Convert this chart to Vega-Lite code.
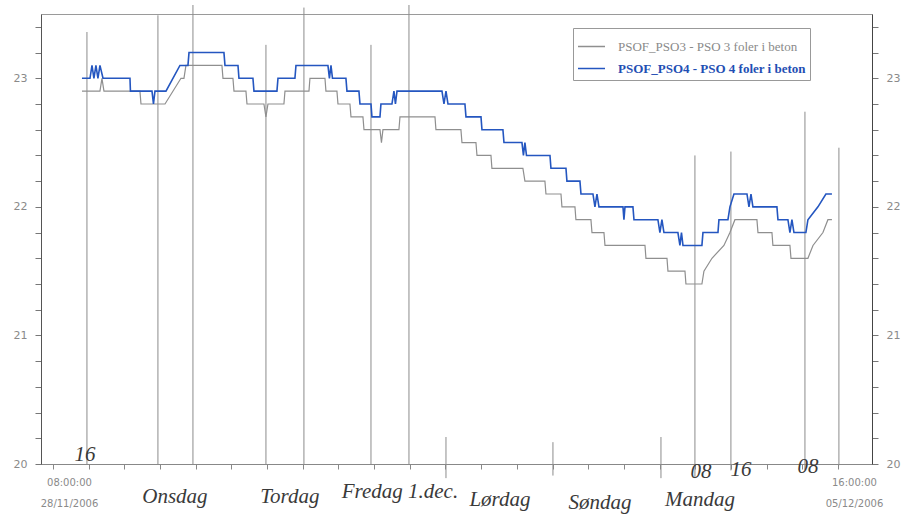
{
  "$schema": "https://vega.github.io/schema/vega-lite/v6.json",
  "width": 831,
  "height": 450,
  "autosize": "none",
  "padding": {"left": 41, "top": 14, "right": 30, "bottom": 55},
  "background": "white",
  "config": {"view": {"stroke": "#9a9a9a", "strokeWidth": 1}},
  "layer": [
    {
      "data": {
        "values": [
          {"t": "2006-11-28T15:37:00Z", "from": 23.36, "to": 20.0},
          {"t": "2006-11-29T07:32:00Z", "from": 23.49, "to": 20.0},
          {"t": "2006-11-29T15:23:00Z", "from": 23.57, "to": 20.0},
          {"t": "2006-11-30T07:45:00Z", "from": 23.26, "to": 20.0},
          {"t": "2006-11-30T16:16:00Z", "from": 23.55, "to": 20.0},
          {"t": "2006-12-01T07:18:00Z", "from": 23.26, "to": 20.0},
          {"t": "2006-12-01T15:49:00Z", "from": 23.57, "to": 20.0},
          {"t": "2006-12-02T00:07:00Z", "from": 20.21, "to": 19.89},
          {"t": "2006-12-03T00:06:00Z", "from": 20.17, "to": 19.91},
          {"t": "2006-12-04T00:19:00Z", "from": 20.21, "to": 19.89},
          {"t": "2006-12-04T07:56:00Z", "from": 22.4, "to": 19.89},
          {"t": "2006-12-04T16:00:00Z", "from": 22.43, "to": 19.95},
          {"t": "2006-12-05T08:36:00Z", "from": 22.74, "to": 19.95},
          {"t": "2006-12-05T16:13:00Z", "from": 22.46, "to": 19.99}
        ]
      },
      "mark": {"type": "rule", "color": "#8c8c8c", "strokeWidth": 1},
      "encoding": {
        "x": {
          "field": "t", "type": "temporal",
          "scale": {"type": "utc", "domain": [1164691140000, 1165361880000]},
          "axis": {
            "orient": "bottom",
            "title": null,
            "grid": false,
            "values": [1164700800000, 1164729600000, 1164758400000, 1164787200000, 1164816000000, 1164844800000, 1164873600000, 1164902400000, 1164931200000, 1164960000000, 1164988800000, 1165017600000, 1165046400000, 1165075200000, 1165104000000, 1165132800000, 1165161600000, 1165190400000, 1165219200000, 1165248000000, 1165276800000, 1165305600000, 1165334400000],
            "labelExpr": "utcFormat(datum.value, '%d%H') == '2808' || utcFormat(datum.value, '%d%H') == '0516' ? utcFormat(datum.value, '%H:%M:%S') : ''",
            "labelOverlap": false,
            "labelFlush": false,
            "labelAlign": "center",
            "labelOffset": 16,
            "labelBaseline": "top",
            "labelPadding": 8,
            "labelFont": "DejaVu Sans",
            "labelFontSize": 10,
            "labelColor": "#8a8a8a",
            "tickSize": 5,
            "tickColor": "#888888",
            "domainColor": "#888888"
          }
        },
        "y": {"field": "from", "type": "quantitative", "scale": {"domain": [20, 23.5], "nice": false, "zero": false}, "axis": null},
        "y2": {"field": "to"}
      }
    },
    {
      "data": {
        "values": [
          {"t": "2006-11-28T14:30:00Z", "v": 22.9},
          {"t": "2006-11-28T18:32:00Z", "v": 22.9},
          {"t": "2006-11-28T18:59:00Z", "v": 23.0},
          {"t": "2006-11-28T19:26:00Z", "v": 22.9},
          {"t": "2006-11-29T03:30:00Z", "v": 22.9},
          {"t": "2006-11-29T03:44:00Z", "v": 22.8},
          {"t": "2006-11-29T09:07:00Z", "v": 22.8},
          {"t": "2006-11-29T12:42:00Z", "v": 23.0},
          {"t": "2006-11-29T13:22:00Z", "v": 23.0},
          {"t": "2006-11-29T13:49:00Z", "v": 23.1},
          {"t": "2006-11-29T21:53:00Z", "v": 23.1},
          {"t": "2006-11-29T22:07:00Z", "v": 23.0},
          {"t": "2006-11-30T00:21:00Z", "v": 23.0},
          {"t": "2006-11-30T00:35:00Z", "v": 22.9},
          {"t": "2006-11-30T03:16:00Z", "v": 22.9},
          {"t": "2006-11-30T03:30:00Z", "v": 22.8},
          {"t": "2006-11-30T07:18:00Z", "v": 22.8},
          {"t": "2006-11-30T07:45:00Z", "v": 22.7},
          {"t": "2006-11-30T08:12:00Z", "v": 22.8},
          {"t": "2006-11-30T11:47:00Z", "v": 22.8},
          {"t": "2006-11-30T12:01:00Z", "v": 22.9},
          {"t": "2006-11-30T17:24:00Z", "v": 22.9},
          {"t": "2006-11-30T17:37:00Z", "v": 23.0},
          {"t": "2006-11-30T20:59:00Z", "v": 23.0},
          {"t": "2006-11-30T21:12:00Z", "v": 22.9},
          {"t": "2006-11-30T23:40:00Z", "v": 22.9},
          {"t": "2006-11-30T23:54:00Z", "v": 22.8},
          {"t": "2006-12-01T02:35:00Z", "v": 22.8},
          {"t": "2006-12-01T02:49:00Z", "v": 22.7},
          {"t": "2006-12-01T05:30:00Z", "v": 22.7},
          {"t": "2006-12-01T05:44:00Z", "v": 22.6},
          {"t": "2006-12-01T09:19:00Z", "v": 22.6},
          {"t": "2006-12-01T09:39:00Z", "v": 22.5},
          {"t": "2006-12-01T09:59:00Z", "v": 22.6},
          {"t": "2006-12-01T13:34:00Z", "v": 22.6},
          {"t": "2006-12-01T13:48:00Z", "v": 22.7},
          {"t": "2006-12-01T21:39:00Z", "v": 22.7},
          {"t": "2006-12-01T21:52:00Z", "v": 22.6},
          {"t": "2006-12-02T03:28:00Z", "v": 22.6},
          {"t": "2006-12-02T03:42:00Z", "v": 22.5},
          {"t": "2006-12-02T06:50:00Z", "v": 22.5},
          {"t": "2006-12-02T07:04:00Z", "v": 22.4},
          {"t": "2006-12-02T10:12:00Z", "v": 22.4},
          {"t": "2006-12-02T10:25:00Z", "v": 22.3},
          {"t": "2006-12-02T17:22:00Z", "v": 22.3},
          {"t": "2006-12-02T17:49:00Z", "v": 22.2},
          {"t": "2006-12-02T22:18:00Z", "v": 22.2},
          {"t": "2006-12-02T22:32:00Z", "v": 22.1},
          {"t": "2006-12-03T01:54:00Z", "v": 22.1},
          {"t": "2006-12-03T02:07:00Z", "v": 22.0},
          {"t": "2006-12-03T05:02:00Z", "v": 22.0},
          {"t": "2006-12-03T05:15:00Z", "v": 21.9},
          {"t": "2006-12-03T08:37:00Z", "v": 21.9},
          {"t": "2006-12-03T08:51:00Z", "v": 21.8},
          {"t": "2006-12-03T11:32:00Z", "v": 21.8},
          {"t": "2006-12-03T11:46:00Z", "v": 21.7},
          {"t": "2006-12-03T20:44:00Z", "v": 21.7},
          {"t": "2006-12-03T20:57:00Z", "v": 21.6},
          {"t": "2006-12-04T01:40:00Z", "v": 21.6},
          {"t": "2006-12-04T01:53:00Z", "v": 21.5},
          {"t": "2006-12-04T05:42:00Z", "v": 21.5},
          {"t": "2006-12-04T05:55:00Z", "v": 21.4},
          {"t": "2006-12-04T09:30:00Z", "v": 21.4},
          {"t": "2006-12-04T09:57:00Z", "v": 21.5},
          {"t": "2006-12-04T11:45:00Z", "v": 21.6},
          {"t": "2006-12-04T14:26:00Z", "v": 21.7},
          {"t": "2006-12-04T15:47:00Z", "v": 21.8},
          {"t": "2006-12-04T16:54:00Z", "v": 21.9},
          {"t": "2006-12-04T21:50:00Z", "v": 21.9},
          {"t": "2006-12-04T22:04:00Z", "v": 21.8},
          {"t": "2006-12-05T01:12:00Z", "v": 21.8},
          {"t": "2006-12-05T01:25:00Z", "v": 21.7},
          {"t": "2006-12-05T05:14:00Z", "v": 21.7},
          {"t": "2006-12-05T05:28:00Z", "v": 21.6},
          {"t": "2006-12-05T09:16:00Z", "v": 21.6},
          {"t": "2006-12-05T10:24:00Z", "v": 21.7},
          {"t": "2006-12-05T12:38:00Z", "v": 21.8},
          {"t": "2006-12-05T13:45:00Z", "v": 21.9},
          {"t": "2006-12-05T14:39:00Z", "v": 21.9}
        ]
      },
      "mark": {"type": "line", "strokeWidth": 1.2},
      "encoding": {
        "x": {
          "field": "t", "type": "temporal",
          "axis": {
            "orient": "bottom",
            "title": null,
            "grid": false,
            "values": [1164700800000, 1165334400000],
            "labelExpr": "utcFormat(datum.value, '%d/%m/%Y')",
            "labelOverlap": false,
            "labelFlush": false,
            "labelAlign": "center",
            "labelOffset": 16,
            "labelBaseline": "top",
            "labelPadding": 34,
            "labelFont": "DejaVu Sans",
            "labelFontSize": 10,
            "labelColor": "#8a8a8a",
            "ticks": false,
            "domain": false
          }
        },
        "y": {
          "field": "v", "type": "quantitative",
          "scale": {"domain": [20, 23.5], "nice": false, "zero": false},
          "axis": {
            "orient": "left", "title": null, "grid": false,
            "values": [20, 20.2, 20.4, 20.6, 20.8, 21, 21.2, 21.4, 21.6, 21.8, 22, 22.2, 22.4, 22.6, 22.8, 23, 23.2, 23.4],
            "labelExpr": "datum.value % 1 == 0 ? format(datum.value, 'd') : ''",
            "labelOverlap": false, "labelFlush": false,
            "tickSize": 6, "labelPadding": 8,
            "labelFont": "DejaVu Sans", "labelFontSize": 11, "labelColor": "#8a8a8a",
            "domainColor": "#555555", "tickColor": "#777777"
          }
        },
        "color": {
          "datum": "PSOF_PSO3 - PSO 3 foler i beton", "type": "nominal",
          "scale": {"domain": ["PSOF_PSO3 - PSO 3 foler i beton", "PSOF_PSO4 - PSO 4 foler i beton"], "range": ["#8f8f8f", "#2456c0"]},
          "legend": {
            "title": null, "orient": "none", "legendX": 532, "legendY": 14,
            "symbolSize": 729, "symbolStrokeWidth": 1.5,
            "labelFont": "Liberation Serif", "labelFontSize": 13, "labelOffset": 12, "labelLimit": 300,
            "padding": 4, "rowPadding": 0, "strokeColor": "#999999", "fillColor": "white",
            "encode": {"labels": {"update": {
              "fill": {"signal": "indexof(datum.label, 'PSO4') >= 0 ? '#1f4fb4' : '#8a8a8a'"},
              "fontWeight": {"signal": "indexof(datum.label, 'PSO4') >= 0 ? 'bold' : 'normal'"}
            }}}
          }
        }
      }
    },
    {
      "data": {
        "values": [
          {"t": "2006-11-28T14:30:00Z", "v": 23.0},
          {"t": "2006-11-28T16:18:00Z", "v": 23.0},
          {"t": "2006-11-28T16:45:00Z", "v": 23.1},
          {"t": "2006-11-28T17:11:00Z", "v": 23.0},
          {"t": "2006-11-28T17:38:00Z", "v": 23.1},
          {"t": "2006-11-28T18:05:00Z", "v": 23.0},
          {"t": "2006-11-28T18:32:00Z", "v": 23.1},
          {"t": "2006-11-28T19:13:00Z", "v": 23.0},
          {"t": "2006-11-29T01:16:00Z", "v": 23.0},
          {"t": "2006-11-29T01:22:00Z", "v": 22.9},
          {"t": "2006-11-29T06:12:00Z", "v": 22.9},
          {"t": "2006-11-29T06:32:00Z", "v": 22.8},
          {"t": "2006-11-29T06:52:00Z", "v": 22.9},
          {"t": "2006-11-29T09:20:00Z", "v": 22.9},
          {"t": "2006-11-29T12:28:00Z", "v": 23.1},
          {"t": "2006-11-29T14:16:00Z", "v": 23.1},
          {"t": "2006-11-29T14:30:00Z", "v": 23.2},
          {"t": "2006-11-29T22:20:00Z", "v": 23.2},
          {"t": "2006-11-29T22:34:00Z", "v": 23.1},
          {"t": "2006-11-30T01:29:00Z", "v": 23.1},
          {"t": "2006-11-30T01:42:00Z", "v": 23.0},
          {"t": "2006-11-30T04:50:00Z", "v": 23.0},
          {"t": "2006-11-30T05:04:00Z", "v": 22.9},
          {"t": "2006-11-30T10:13:00Z", "v": 22.9},
          {"t": "2006-11-30T10:27:00Z", "v": 23.0},
          {"t": "2006-11-30T14:15:00Z", "v": 23.0},
          {"t": "2006-11-30T14:29:00Z", "v": 23.1},
          {"t": "2006-11-30T21:39:00Z", "v": 23.1},
          {"t": "2006-11-30T21:59:00Z", "v": 23.0},
          {"t": "2006-11-30T22:20:00Z", "v": 23.1},
          {"t": "2006-11-30T22:40:00Z", "v": 23.0},
          {"t": "2006-12-01T01:41:00Z", "v": 23.0},
          {"t": "2006-12-01T01:55:00Z", "v": 22.9},
          {"t": "2006-12-01T04:36:00Z", "v": 22.9},
          {"t": "2006-12-01T04:50:00Z", "v": 22.8},
          {"t": "2006-12-01T07:18:00Z", "v": 22.8},
          {"t": "2006-12-01T07:31:00Z", "v": 22.7},
          {"t": "2006-12-01T09:19:00Z", "v": 22.7},
          {"t": "2006-12-01T09:32:00Z", "v": 22.8},
          {"t": "2006-12-01T12:00:00Z", "v": 22.8},
          {"t": "2006-12-01T12:27:00Z", "v": 22.9},
          {"t": "2006-12-01T12:47:00Z", "v": 22.8},
          {"t": "2006-12-01T13:08:00Z", "v": 22.9},
          {"t": "2006-12-01T23:13:00Z", "v": 22.9},
          {"t": "2006-12-01T23:40:00Z", "v": 22.8},
          {"t": "2006-12-02T00:07:00Z", "v": 22.9},
          {"t": "2006-12-02T00:34:00Z", "v": 22.8},
          {"t": "2006-12-02T04:22:00Z", "v": 22.8},
          {"t": "2006-12-02T04:36:00Z", "v": 22.7},
          {"t": "2006-12-02T07:58:00Z", "v": 22.7},
          {"t": "2006-12-02T08:11:00Z", "v": 22.6},
          {"t": "2006-12-02T12:53:00Z", "v": 22.6},
          {"t": "2006-12-02T13:07:00Z", "v": 22.5},
          {"t": "2006-12-02T17:09:00Z", "v": 22.5},
          {"t": "2006-12-02T17:29:00Z", "v": 22.4},
          {"t": "2006-12-02T17:49:00Z", "v": 22.5},
          {"t": "2006-12-02T18:10:00Z", "v": 22.4},
          {"t": "2006-12-02T23:26:00Z", "v": 22.4},
          {"t": "2006-12-02T23:39:00Z", "v": 22.3},
          {"t": "2006-12-03T03:01:00Z", "v": 22.3},
          {"t": "2006-12-03T03:14:00Z", "v": 22.2},
          {"t": "2006-12-03T06:09:00Z", "v": 22.2},
          {"t": "2006-12-03T06:23:00Z", "v": 22.1},
          {"t": "2006-12-03T09:04:00Z", "v": 22.1},
          {"t": "2006-12-03T09:31:00Z", "v": 22.0},
          {"t": "2006-12-03T09:58:00Z", "v": 22.1},
          {"t": "2006-12-03T10:25:00Z", "v": 22.0},
          {"t": "2006-12-03T15:48:00Z", "v": 22.0},
          {"t": "2006-12-03T16:01:00Z", "v": 21.9},
          {"t": "2006-12-03T16:15:00Z", "v": 22.0},
          {"t": "2006-12-03T18:02:00Z", "v": 22.0},
          {"t": "2006-12-03T18:16:00Z", "v": 21.9},
          {"t": "2006-12-03T23:38:00Z", "v": 21.9},
          {"t": "2006-12-04T00:05:00Z", "v": 21.8},
          {"t": "2006-12-04T00:32:00Z", "v": 21.9},
          {"t": "2006-12-04T00:59:00Z", "v": 21.8},
          {"t": "2006-12-04T04:07:00Z", "v": 21.8},
          {"t": "2006-12-04T04:34:00Z", "v": 21.7},
          {"t": "2006-12-04T04:55:00Z", "v": 21.8},
          {"t": "2006-12-04T05:15:00Z", "v": 21.7},
          {"t": "2006-12-04T09:30:00Z", "v": 21.7},
          {"t": "2006-12-04T09:44:00Z", "v": 21.8},
          {"t": "2006-12-04T13:06:00Z", "v": 21.8},
          {"t": "2006-12-04T13:19:00Z", "v": 21.9},
          {"t": "2006-12-04T15:20:00Z", "v": 21.9},
          {"t": "2006-12-04T15:47:00Z", "v": 22.0},
          {"t": "2006-12-04T16:41:00Z", "v": 22.1},
          {"t": "2006-12-04T19:36:00Z", "v": 22.1},
          {"t": "2006-12-04T20:03:00Z", "v": 22.0},
          {"t": "2006-12-04T20:30:00Z", "v": 22.1},
          {"t": "2006-12-04T20:56:00Z", "v": 22.0},
          {"t": "2006-12-05T02:19:00Z", "v": 22.0},
          {"t": "2006-12-05T02:33:00Z", "v": 21.9},
          {"t": "2006-12-05T04:47:00Z", "v": 21.9},
          {"t": "2006-12-05T05:14:00Z", "v": 21.8},
          {"t": "2006-12-05T05:41:00Z", "v": 21.9},
          {"t": "2006-12-05T06:08:00Z", "v": 21.8},
          {"t": "2006-12-05T08:49:00Z", "v": 21.8},
          {"t": "2006-12-05T09:16:00Z", "v": 21.9},
          {"t": "2006-12-05T11:31:00Z", "v": 22.0},
          {"t": "2006-12-05T13:18:00Z", "v": 22.1},
          {"t": "2006-12-05T14:39:00Z", "v": 22.1}
        ]
      },
      "mark": {"type": "line", "strokeWidth": 1.6},
      "encoding": {
        "x": {"field": "t", "type": "temporal", "axis": null},
        "y": {
          "field": "v", "type": "quantitative",
          "scale": {"domain": [20, 23.5], "nice": false, "zero": false},
          "axis": {
            "orient": "right", "title": null, "grid": false,
            "values": [20, 20.2, 20.4, 20.6, 20.8, 21, 21.2, 21.4, 21.6, 21.8, 22, 22.2, 22.4, 22.6, 22.8, 23, 23.2, 23.4],
            "labelExpr": "datum.value % 1 == 0 ? format(datum.value, 'd') : ''",
            "labelOverlap": false, "labelFlush": false,
            "tickSize": 6, "labelPadding": 8,
            "labelFont": "DejaVu Sans", "labelFontSize": 11, "labelColor": "#8a8a8a",
            "domainColor": "#444444", "tickColor": "#777777"
          }
        },
        "color": {"datum": "PSOF_PSO4 - PSO 4 foler i beton", "type": "nominal"}
      }
    },
    {
      "data": {
        "values": [
          {"t": "2006-11-28T15:10:00Z", "v": 20.07, "note": "16"},
          {"t": "2006-11-29T11:21:00Z", "v": 19.74, "note": "Onsdag"},
          {"t": "2006-11-30T13:08:00Z", "v": 19.74, "note": "Tordag"},
          {"t": "2006-12-01T13:48:00Z", "v": 19.78, "note": "Fredag 1.dec."},
          {"t": "2006-12-02T12:13:00Z", "v": 19.72, "note": "Lørdag"},
          {"t": "2006-12-03T10:38:00Z", "v": 19.7, "note": "Søndag"},
          {"t": "2006-12-04T09:03:00Z", "v": 19.72, "note": "Mandag"},
          {"t": "2006-12-04T09:17:00Z", "v": 19.94, "note": "08"},
          {"t": "2006-12-04T18:15:00Z", "v": 19.95, "note": "16"},
          {"t": "2006-12-05T09:16:00Z", "v": 19.98, "note": "08"}
        ]
      },
      "mark": {"type": "text", "font": "Liberation Serif", "fontStyle": "italic", "fontSize": 21, "color": "#3a3a3a", "baseline": "middle", "align": "center"},
      "encoding": {
        "x": {"field": "t", "type": "temporal", "axis": null},
        "y": {"field": "v", "type": "quantitative", "scale": {"domain": [20, 23.5], "nice": false, "zero": false}, "axis": null},
        "text": {"field": "note", "type": "nominal"}
      }
    }
  ],
  "resolve": {"scale": {"y": "shared", "x": "shared", "color": "shared"}, "axis": {"y": "independent", "x": "independent"}}
}
